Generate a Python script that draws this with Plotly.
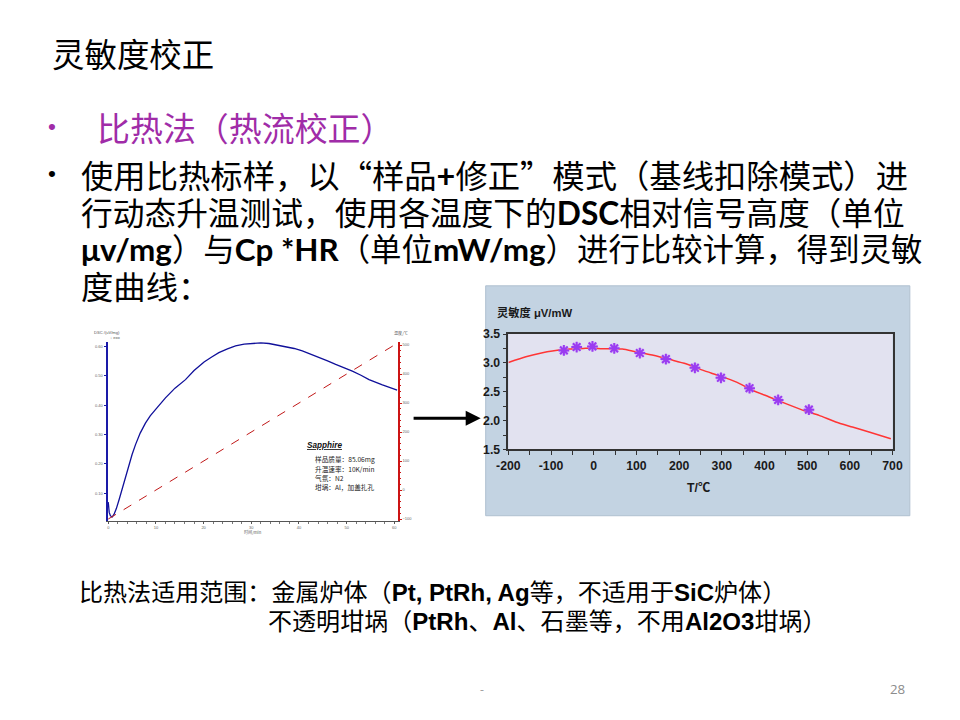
import plotly.graph_objects as go

# ---------------- data ----------------
# Left chart: sapphire DSC run (time / min)
dsc_time = [0.0, 0.05, 0.2, 0.45, 0.8, 1.2, 1.7, 2.3, 3.0, 3.6, 4.5, 5.0, 5.7, 6.7, 7.8, 8.8,
            9.9, 11.0, 12.0, 14.0, 16.2, 18.0, 20.1, 21.7, 23.2, 25.0, 26.7, 28.5, 30.2, 32.0,
            33.7, 35.5, 37.2, 39.0, 40.7, 42.5, 44.2, 46.0, 47.7, 49.5, 51.2, 53.0, 54.7,
            57.5, 60.6]
dsc_signal = [0.070, 0.055, 0.035, 0.024, 0.019, 0.028, 0.048, 0.080, 0.120, 0.160, 0.205,
              0.232, 0.265, 0.305, 0.339, 0.364, 0.385, 0.406, 0.425, 0.458, 0.487, 0.518,
              0.547, 0.564, 0.579, 0.592, 0.602, 0.608, 0.611, 0.612, 0.610, 0.605, 0.599,
              0.593, 0.585, 0.574, 0.562, 0.551, 0.539, 0.528, 0.516, 0.502, 0.487, 0.469,
              0.451]
temp_time = [0.0, 60.7]
temp_value = [-100, 507]
dsc_x_ticks = [0, 10, 20, 30, 40, 50, 60]
dsc_y_ticks = [0.1, 0.2, 0.3, 0.4, 0.5, 0.6]
temp_ticks = [-100, 0, 100, 200, 300, 400, 500]

# Right chart: sensitivity curve (μV/mW) vs T/℃
sens_T = [-200, -159, -120, -97, -58, -19, -3, 20, 67, 98, 137, 184, 216, 255, 294,
          333, 372, 411, 450, 497, 528, 567, 606, 645, 696]
sens_val = [3.007, 3.106, 3.175, 3.204, 3.239, 3.251, 3.255, 3.245, 3.240, 3.193, 3.135,
            3.048, 2.984, 2.874, 2.775, 2.671, 2.526, 2.410, 2.294, 2.161, 2.091, 1.975,
            1.888, 1.801, 1.686]
pts_T = [-70, -40, -3, 48, 108, 169, 237, 298, 365, 432, 504]
pts_val = [3.216, 3.274, 3.285, 3.251, 3.170, 3.065, 2.914, 2.741, 2.561, 2.358, 2.190]
sens_x_ticks = [-200, -100, 0, 100, 200, 300, 400, 500, 600, 700]
sens_x_labels = ["-200", "-100", "0", "100", "200", "300", "400", "500", "600", "700"]
sens_y_ticks = [1.5, 2.0, 2.5, 3.0, 3.5]

# layout helpers (screen coordinates -> paper fractions)
S, OX, OY = 0.977, 11.5, 8.3
W, H = 972, 733
def px(x): return ((x - OX) / S) / W
def py(y): return 1 - ((y - OY) / S) / H
def fs(v): return v / S

fig = go.Figure()

# left chart traces
fig.add_trace(go.Scatter(x=dsc_time, y=dsc_signal, mode="lines", line=dict(color="#10109A", width=1.3),
                         xaxis="x", yaxis="y", showlegend=False, hoverinfo="skip"))
fig.add_trace(go.Scatter(x=temp_time, y=temp_value, mode="lines", line=dict(color="#C01818", width=1, dash="dash"),
                         xaxis="x", yaxis="y2", showlegend=False, hoverinfo="skip"))

# right chart traces
fig.add_trace(go.Scatter(x=sens_T, y=sens_val, mode="lines", line=dict(color="#FF3535", width=1.5, shape="spline", smoothing=0.6),
                         xaxis="x3", yaxis="y3", showlegend=False, hoverinfo="skip"))
fig.add_trace(go.Scatter(x=pts_T, y=pts_val, mode="markers",
                         marker=dict(symbol="circle", size=10, color="rgba(200,150,255,0.5)", line=dict(width=0)),
                         xaxis="x3", yaxis="y3", showlegend=False, hoverinfo="skip"))
fig.add_trace(go.Scatter(x=pts_T, y=pts_val, mode="markers",
                         marker=dict(symbol="asterisk-open", size=9, color="#9A3CF0", line=dict(color="#9A3CF0", width=2)),
                         xaxis="x3", yaxis="y3", showlegend=False, hoverinfo="skip"))

tiny = dict(size=4, color="#666", family="Liberation Sans")
tickfont_r = dict(size=fs(12), color="#1A1A1A", family="Liberation Sans Narrow, Liberation Sans", weight="bold")

fig.update_layout(
    width=W, height=H, margin=dict(l=0, r=0, t=0, b=0),
    paper_bgcolor="white", plot_bgcolor="rgba(0,0,0,0)",
    xaxis=dict(domain=[px(107), px(397)], range=[-0.15, 60.7], anchor="y",
               showline=True, linecolor="#555", linewidth=1, ticks="outside", ticklen=2, tickcolor="#555",
               tickvals=dsc_x_ticks, tickfont=tiny, showgrid=False, zeroline=False,
               minor=dict(ticks="outside", ticklen=1.5, dtick=2, tickcolor="#777")),
    yaxis=dict(domain=[py(520.5), py(342)], range=[0.005, 0.615], anchor="x",
               showline=True, linecolor="#1A1AA8", linewidth=2, ticks="outside", ticklen=2, tickcolor="#1A1AA8",
               tickvals=dsc_y_ticks, tickformat=".2f", tickfont=tiny, showgrid=False, zeroline=False),
    yaxis2=dict(overlaying="y", side="right", anchor="x", range=[-107.6, 510.4],
                showline=True, linecolor="#CC1414", linewidth=2, ticks="outside", ticklen=2, tickcolor="#CC1414",
                tickvals=temp_ticks, tickfont=tiny, showgrid=False, zeroline=False,
                minor=dict(ticks="outside", ticklen=1.5, dtick=20, tickcolor="#CC1414")),
    xaxis3=dict(domain=[px(507.7), px(891.7)], range=[-200, 700], anchor="y3",
                showline=True, mirror=True, linecolor="#333", linewidth=1.5, ticks="outside", ticklen=4,
                tickcolor="#333", tickvals=sens_x_ticks, ticktext=sens_x_labels, tickfont=tickfont_r,
                showgrid=False, zeroline=False,
                minor=dict(ticks="outside", ticklen=4, dtick=50, tickcolor="#333")),
    yaxis3=dict(domain=[py(449), py(334)], range=[1.5, 3.5], anchor="x3",
                showline=True, mirror=True, linecolor="#333", linewidth=1.5, ticks="outside", ticklen=4,
                tickcolor="#333", tickvals=sens_y_ticks, tickformat=".1f", tickfont=tickfont_r,
                showgrid=False, zeroline=False,
                minor=dict(ticks="outside", ticklen=4, dtick=0.25, tickcolor="#333")),
)

# panel backgrounds for right chart
fig.add_shape(type="rect", xref="paper", yref="paper", x0=px(485), x1=px(909), y0=py(515), y1=py(286),
              fillcolor="#C3D3E2", line=dict(color="#B0C0D0", width=1), layer="below")
fig.add_shape(type="rect", xref="paper", yref="paper", x0=px(507.7), x1=px(891.7), y0=py(449), y1=py(334),
              fillcolor="#E2E2F0", line=dict(width=0), layer="below")

ann = []
def text(x, y, s, size, color="black", family="Noto Sans CJK SC", xanchor="left", yanchor="middle"):
    ann.append(dict(x=px(x), y=py(y), xref="paper", yref="paper", text=s, showarrow=False,
                    xanchor=xanchor, yanchor=yanchor, borderpad=0,
                    font=dict(size=fs(size), color=color, family=family)))

def lat(s):
    return '<b><span style="font-family:Lato">' + s + '</span></b>'

text(50, 54, "灵敏度校正", 31.7)
text(46, 127, "•", 22, color="#A02CA8", family="Liberation Sans")
text(95, 127, "比热法（热流校正）", 32.2, color="#A02CA8")
text(46, 174, "•", 22, family="Liberation Sans")
text(79, 174, "使用比热标样，以“样品" + lat("+") + "修正”模式（基线扣除模式）进", 31.6)
text(79, 211, "行动态升温测试，使用各温度下的" + lat("DSC") + "相对信号高度（单位", 31.0)
text(79, 248, lat("μv/mg") + "）与" + lat("Cp *HR") + "（单位" + lat("mW/mg") + "）进行比较计算，得到灵敏", 30.7)
text(79, 285, "度曲线：", 31.6)

bf = "Liberation Sans, Noto Sans CJK SC"
text(77, 591, "比热法适用范围：金属炉体（<b>Pt, PtRh, Ag</b>等，不适用于<b>SiC</b>炉体）", 23.5, family=bf)
text(266, 620, "不透明坩埚（<b>PtRh</b>、<b>Al</b>、石墨等，不用<b>Al2O3</b>坩埚）", 23.5, family=bf)

text(481, 688, "-", 12, color="#A0A0A0", family="Open Sans", xanchor="center")
text(905, 688, "28", 13, color="#8C8C8C", family="Open Sans", xanchor="right")

# left chart labels
text(92, 333, "DSC /(uV/mg)", 4, color="#555", family="Liberation Sans")
text(108, 337, "↓ exo", 4, color="#555", family="Liberation Sans")
text(392, 333, "温度/℃", 4, color="#555")
text(252, 531, "时间/min", 4, color="#555", xanchor="center")
text(305, 445, "<b><i><u>Sapphire</u></i></b>", 8, color="#111", family="Liberation Sans")
text(313, 459, "样品质量：85.06mg", 6.5, color="#222")
text(313, 468, "升温速率：10K/min", 6.5, color="#222")
text(313, 477, "气氛：N2", 6.5, color="#222")
text(313, 486, "坩埚：Al，加盖扎孔", 6.5, color="#222")

# right chart labels
text(495, 313, "<b>灵敏度 μV/mW</b>", 11, color="#1A1A1A", family="Liberation Sans, Noto Sans CJK SC")
text(698, 487, "<b>T/℃</b>", 12, color="#1A1A1A", family="Liberation Sans Narrow, Liberation Sans, Noto Sans CJK SC",
     xanchor="center")

# arrow
ann.append(dict(x=px(480), y=py(418), xref="paper", yref="paper", ax=-67 / S, ay=0, axref="pixel", ayref="pixel",
                text="", showarrow=True, arrowhead=2, arrowsize=1, arrowwidth=3, arrowcolor="black"))

fig.update_layout(annotations=ann)
fig.write_html("out.html")
